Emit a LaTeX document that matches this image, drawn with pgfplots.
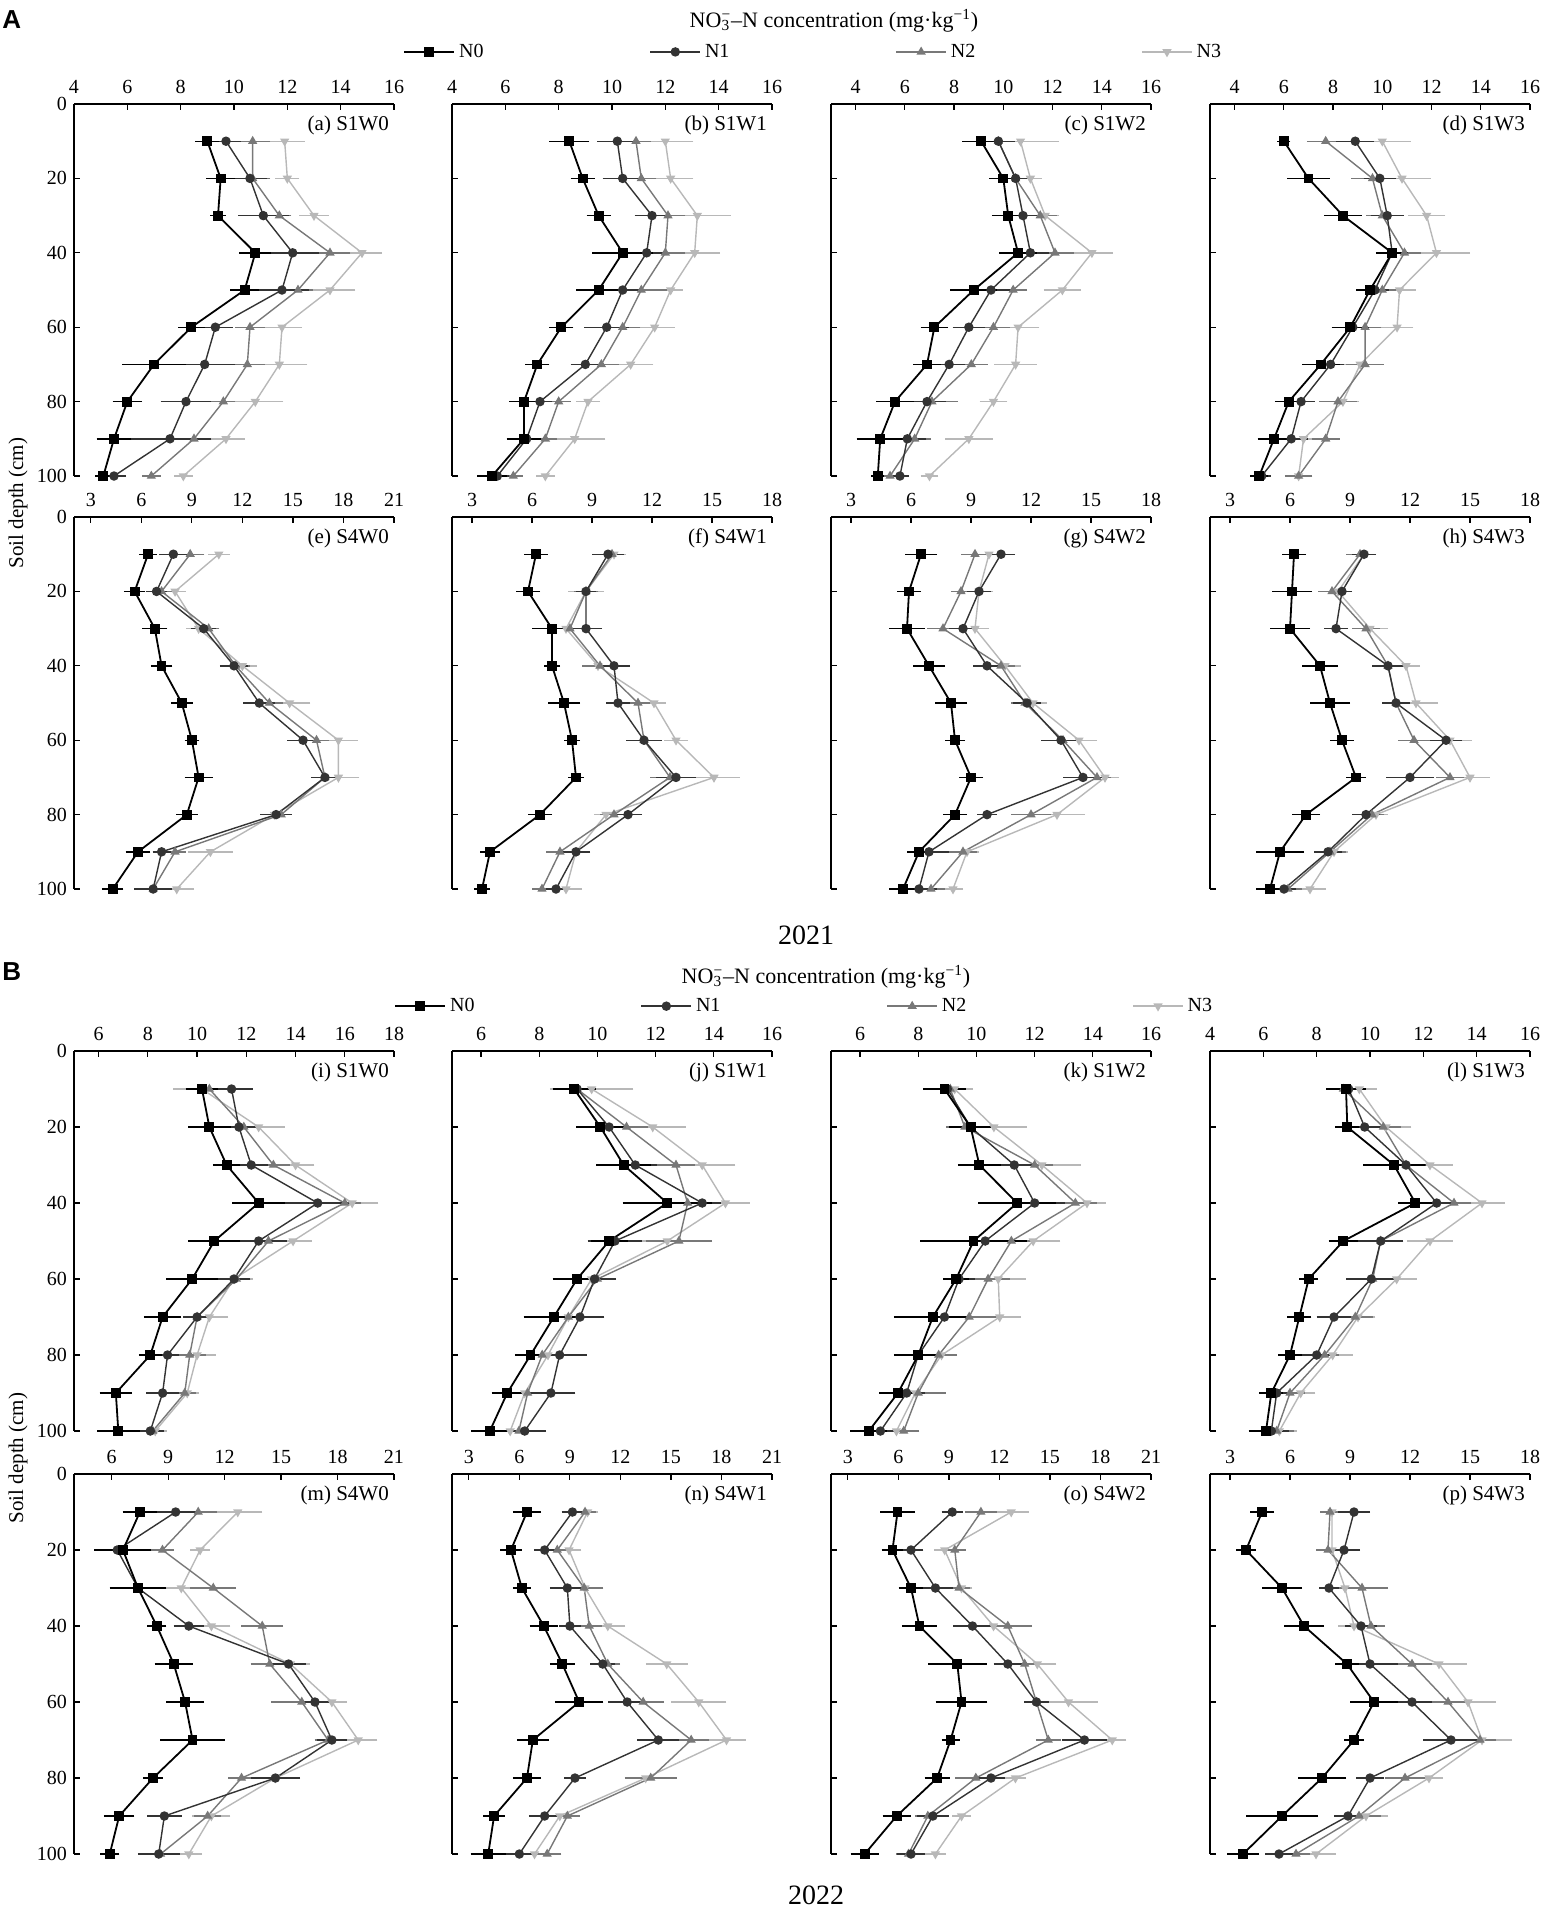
\documentclass[border=0pt]{standalone}
\usepackage{fontspec}
\setmainfont{Liberation Serif}
\newfontfamily\arialf{Liberation Sans}
\usepackage{pgfplots}
\usepackage{pgfplotstable}
\pgfplotsset{compat=1.18}

\definecolor{cN0}{HTML}{000000}
\definecolor{cN1}{HTML}{333333}
\definecolor{cN2}{HTML}{787878}
\definecolor{cN3}{HTML}{B8B8B8}

\pgfplotstableread{
d n0 e0 n1 e1 n2 e2 n3 e3
10 9.0 0.3 9.7 0.4 10.7 0.5 11.9 0.6
20 9.5 0.4 10.6 0.5 10.7 0.5 12.0 0.3
30 9.4 0.15 11.1 0.8 11.7 0.3 13.0 0.4
40 10.8 0.45 12.2 0.85 13.6 0.6 14.8 0.6
50 10.4 0.4 11.8 0.85 12.4 0.4 13.6 0.8
60 8.4 0.35 9.3 0.5 10.6 0.4 11.8 0.6
70 7.0 1.05 8.9 1.0 10.5 0.5 11.7 0.9
80 6.0 0.4 8.2 0.8 9.6 0.3 10.8 0.9
90 5.5 0.5 7.6 1.4 8.5 0.5 9.7 0.55
100 5.1 0.15 5.5 0.3 6.9 0.2 8.1 0.2
}\tA
\pgfplotstableread{
d n0 e0 n1 e1 n2 e2 n3 e3
10 8.4 0.6 10.2 0.6 10.9 0.4 12.0 0.9
20 8.9 0.3 10.4 0.6 11.1 0.4 12.2 0.7
30 9.5 0.3 11.5 0.5 12.1 0.5 13.2 1.1
40 10.4 1.0 11.3 0.6 12.0 0.6 13.1 0.8
50 9.5 0.7 10.4 0.6 11.1 0.8 12.2 0.3
60 8.1 0.3 9.8 0.7 10.4 0.5 11.6 0.6
70 7.2 0.3 9.0 0.4 9.6 0.5 10.7 0.7
80 6.7 0.4 7.3 0.3 8.0 0.3 9.1 0.3
90 6.7 0.5 6.8 0.4 7.5 0.3 8.6 1.0
100 5.5 0.4 5.7 0.3 6.3 0.2 7.5 0.2
}\tB
\pgfplotstableread{
d n0 e0 n1 e1 n2 e2 n3 e3
10 9.1 0.6 9.8 0.5 9.8 0.3 10.7 1.4
20 10.0 0.4 10.5 0.4 10.5 0.3 11.1 0.3
30 10.2 0.5 10.8 0.4 11.5 0.5 11.7 0.4
40 10.6 0.6 11.1 0.6 12.1 0.6 13.6 0.7
50 8.8 0.8 9.5 0.7 10.4 0.4 12.4 0.6
60 7.2 0.4 8.6 0.5 9.6 0.5 10.6 0.7
70 6.9 0.4 7.8 0.5 8.7 0.5 10.5 0.7
80 5.6 0.6 6.9 0.6 7.1 0.9 9.6 0.4
90 5.0 0.8 6.1 0.6 6.4 0.5 8.6 0.8
100 4.9 0.1 5.8 0.2 5.4 0.2 7.0 0.2
}\tC
\pgfplotstableread{
d n0 e0 n1 e1 n2 e2 n3 e3
10 6.0 0.1 8.9 0.6 7.7 0.6 10.0 1.0
20 7.0 0.7 9.9 0.5 9.6 0.7 10.8 1.0
30 8.4 0.6 10.2 0.5 10.0 0.5 11.8 0.6
40 10.4 0.5 10.4 0.4 10.9 0.5 12.2 1.2
50 9.5 0.4 9.7 0.4 10.0 0.4 10.7 0.5
60 8.7 0.6 8.8 0.5 9.3 0.5 10.6 0.5
70 7.5 0.6 7.9 0.4 9.3 0.6 9.1 0.6
80 6.2 0.4 6.7 0.4 8.2 0.6 8.4 0.5
90 5.6 0.5 6.3 0.5 7.7 0.4 6.8 0.4
100 5.0 0.2 5.1 0.2 6.6 0.4 6.6 0.2
}\tD
\pgfplotstableread{
d n0 e0 n1 e1 n2 e2 n3 e3
10 6.4 0.3 7.9 0.6 8.9 0.6 10.6 0.4
20 5.6 0.4 6.9 0.4 7.2 0.5 8.0 0.4
30 6.8 0.5 9.7 0.5 10.0 0.4 9.4 0.5
40 7.2 0.4 11.5 0.6 11.6 0.6 12.0 0.6
50 8.4 0.4 13.0 0.7 13.6 0.6 14.8 1.0
60 9.0 0.2 15.6 0.7 16.4 0.5 17.7 0.9
70 9.4 0.6 16.9 0.6 16.9 0.5 17.7 1.0
80 8.7 0.4 14.0 0.7 14.3 0.4 13.9 0.6
90 5.8 0.5 7.2 0.3 8.0 0.4 10.1 1.1
100 4.3 0.4 6.7 0.9 6.7 0.4 8.1 0.8
}\tE
\pgfplotstableread{
d n0 e0 n1 e1 n2 e2 n3 e3
10 6.2 0.4 9.8 0.6 10.0 0.4 10.1 0.4
20 5.8 0.4 8.7 0.3 8.7 0.4 8.7 0.7
30 7.0 0.8 8.7 0.6 7.9 0.5 7.7 0.5
40 7.0 0.2 10.1 0.6 9.4 0.7 9.3 0.6
50 7.6 0.6 10.3 0.4 11.3 0.4 12.1 0.4
60 8.0 0.2 11.6 0.7 11.6 0.6 13.2 0.4
70 8.2 0.2 13.2 0.8 12.9 0.8 15.1 1.1
80 6.4 0.4 10.8 0.5 10.1 0.5 9.7 0.4
90 3.9 0.3 8.2 0.5 7.4 0.5 8.2 0.5
100 3.5 0.2 7.2 0.3 6.5 0.3 7.7 0.6
}\tF
\pgfplotstableread{
d n0 e0 n1 e1 n2 e2 n3 e3
10 6.5 0.6 10.5 0.5 9.2 0.5 9.9 0.5
20 5.9 0.4 9.4 0.4 8.5 0.3 9.4 0.5
30 5.8 0.7 8.6 0.5 7.6 0.6 9.2 0.5
40 6.9 0.6 9.8 0.5 10.5 0.5 10.7 0.6
50 8.0 0.6 11.8 0.5 11.7 0.5 12.1 0.5
60 8.2 0.3 13.5 0.8 13.6 0.6 14.4 0.7
70 9.0 0.4 14.6 0.8 15.3 0.5 15.7 0.5
80 8.2 0.4 9.8 0.3 12.0 0.8 13.3 1.2
90 6.4 0.4 6.9 0.8 8.6 0.5 8.8 0.4
100 5.6 0.5 6.4 0.7 7.0 0.5 8.1 0.3
}\tG
\pgfplotstableread{
d n0 e0 n1 e1 n2 e2 n3 e3
10 6.2 0.4 9.7 0.4 9.5 0.5 9.7 0.4
20 6.1 0.8 8.6 0.3 8.1 0.5 8.4 0.4
30 6.0 0.8 8.3 0.4 9.8 0.5 10.0 0.7
40 7.5 0.7 10.9 0.6 10.9 0.5 11.8 0.5
50 8.0 0.8 11.3 0.5 11.3 0.5 12.3 0.9
60 8.6 0.4 13.8 0.6 12.2 0.6 14.0 0.9
70 9.3 0.3 12.0 1.0 14.0 0.5 15.0 0.8
80 6.8 0.5 9.8 0.5 10.1 0.4 10.3 0.4
90 5.5 1.0 7.9 0.5 8.0 0.6 8.2 0.5
100 5.0 0.5 5.7 0.4 5.9 0.5 7.0 0.6
}\tH
\pgfplotstableread{
d n0 e0 n1 e1 n2 e2 n3 e3
10 10.2 0.5 11.4 0.7 10.5 0.5 10.2 1.0
20 10.5 0.7 11.7 0.6 11.9 0.5 12.5 0.9
30 11.2 0.4 12.2 0.5 13.1 0.5 14.0 0.6
40 12.5 0.9 14.9 1.2 16.0 0.5 16.3 0.9
50 10.7 0.9 12.5 1.0 12.9 0.5 13.9 0.6
60 9.8 0.9 11.5 0.5 11.6 0.4 11.5 0.6
70 8.6 0.6 10.0 0.4 10.0 0.4 10.5 0.6
80 8.1 0.3 8.8 0.3 9.7 0.5 10.0 0.6
90 6.7 0.5 8.6 0.5 9.5 0.3 9.6 0.3
100 6.8 0.7 8.1 0.4 8.2 0.3 8.3 0.3
}\tI
\pgfplotstableread{
d n0 e0 n1 e1 n2 e2 n3 e3
10 9.2 0.6 9.3 0.5 9.3 0.4 9.8 1.3
20 10.1 0.7 10.4 0.5 11.0 0.6 11.9 1.0
30 10.9 0.8 11.3 0.6 12.7 0.5 13.6 1.0
40 12.4 1.4 13.6 0.5 13.1 0.7 14.4 0.7
50 10.4 0.5 10.6 0.8 12.8 1.0 12.4 0.8
60 9.3 0.7 9.9 0.6 10.0 0.5 9.8 0.5
70 8.5 0.9 9.4 0.7 9.0 0.5 9.0 0.6
80 7.7 0.4 8.7 0.8 8.1 0.4 8.3 0.5
90 6.9 0.4 8.4 0.7 7.6 0.4 7.5 0.4
100 6.3 0.5 7.5 0.6 7.3 0.5 7.0 0.5
}\tJ
\pgfplotstableread{
d n0 e0 n1 e1 n2 e2 n3 e3
10 8.9 0.6 9.0 0.4 9.1 0.3 9.25 0.5
20 9.8 0.6 9.8 0.5 9.6 0.5 10.6 1.0
30 10.1 0.6 11.3 0.6 12.0 0.5 12.25 1.2
40 11.4 1.2 12.0 0.9 13.4 0.6 13.8 0.5
50 9.9 1.7 10.3 1.0 11.2 0.6 11.95 0.8
60 9.3 0.3 9.4 0.4 10.4 0.6 10.75 0.8
70 8.5 1.2 8.9 0.7 9.75 0.8 10.8 0.6
80 8.0 0.7 8.0 0.4 8.7 0.5 8.8 0.4
90 7.3 0.5 7.6 0.5 8.0 0.8 7.9 0.4
100 6.3 0.5 6.7 0.4 7.5 0.4 7.25 0.5
}\tK
\pgfplotstableread{
d n0 e0 n1 e1 n2 e2 n3 e3
10 9.1 0.6 9.2 0.4 9.0 0.4 9.6 0.5
20 9.15 0.3 9.8 0.6 10.5 0.5 10.6 0.8
30 10.9 1.0 11.35 0.6 11.35 0.5 12.25 0.7
40 11.7 0.5 12.5 0.6 13.15 0.5 14.2 0.7
50 9.0 0.4 10.4 0.7 10.4 0.5 12.25 0.7
60 7.7 0.2 10.05 0.8 10.1 0.6 11.0 0.6
70 7.35 0.3 8.65 0.5 9.45 0.5 9.55 0.5
80 7.0 0.3 8.0 0.4 8.3 0.4 8.6 0.6
90 6.3 0.3 6.5 0.4 7.0 0.4 7.4 0.4
100 6.1 0.5 6.3 0.5 6.5 0.5 6.6 0.5
}\tL
\pgfplotstableread{
d n0 e0 n1 e1 n2 e2 n3 e3
10 7.5 0.7 9.4 1.0 10.6 0.8 12.7 1.1
20 6.6 1.3 6.3 0.9 8.7 0.4 10.7 0.3
30 7.4 1.3 7.4 0.5 11.4 1.0 9.7 0.7
40 8.4 0.3 10.1 0.6 14.0 0.9 11.3 0.8
50 9.3 0.8 15.4 0.7 14.4 0.8 15.5 0.8
60 9.9 0.8 16.8 0.6 16.1 1.4 17.7 0.6
70 10.3 1.5 17.7 0.6 17.5 0.5 19.1 0.8
80 8.2 0.3 14.7 1.1 12.9 0.5 14.7 1.0
90 6.4 0.6 8.8 0.7 11.1 0.5 11.3 0.8
100 5.9 0.3 8.5 0.9 8.6 0.4 10.1 0.5
}\tM
\pgfplotstableread{
d n0 e0 n1 e1 n2 e2 n3 e3
10 6.45 0.6 9.15 0.4 9.9 0.4 10.05 0.4
20 5.5 0.4 7.5 0.4 8.25 0.5 8.95 0.5
30 6.15 0.3 8.85 0.8 9.85 0.9 9.9 0.6
40 7.45 0.6 9.0 0.4 10.15 0.5 11.25 0.8
50 8.55 0.5 10.95 0.5 11.25 0.5 14.75 1.0
60 9.55 1.2 12.4 0.9 13.35 1.0 16.65 1.4
70 6.8 0.7 14.25 1.0 16.2 0.8 18.3 0.9
80 6.45 0.6 9.3 0.4 13.8 1.3 13.5 1.0
90 4.5 0.4 7.5 0.7 8.85 0.5 8.4 0.5
100 4.15 0.8 6.0 0.6 7.65 0.6 6.9 0.5
}\tN
\pgfplotstableread{
d n0 e0 n1 e1 n2 e2 n3 e3
10 5.95 0.8 9.2 0.4 10.9 0.7 12.7 0.8
20 5.65 0.4 6.75 0.5 9.35 0.4 8.75 0.4
30 6.75 0.5 8.2 0.8 9.6 0.4 9.75 0.4
40 7.25 0.8 10.4 0.9 12.5 1.2 11.65 0.6
50 9.5 1.5 12.5 0.6 13.5 0.5 14.25 0.9
60 9.75 1.3 14.2 0.5 14.2 0.5 16.1 1.5
70 9.1 0.3 17.05 1.1 14.9 0.5 18.7 0.6
80 8.3 0.5 11.5 0.6 10.6 1.0 12.95 0.4
90 5.9 0.6 8.05 0.7 7.75 0.5 9.75 0.3
100 4.0 0.6 6.75 0.6 6.6 0.5 8.2 0.4
}\tO
\pgfplotstableread{
d n0 e0 n1 e1 n2 e2 n3 e3
10 4.6 0.4 9.2 0.6 8.0 0.3 8.1 0.4
20 3.8 0.3 8.7 0.6 7.9 0.4 8.1 0.4
30 5.6 0.8 7.95 0.3 9.6 1.1 8.75 0.6
40 6.7 0.8 9.55 0.6 10.05 0.5 9.2 0.6
50 8.85 0.4 10.0 1.2 12.1 0.8 13.45 1.2
60 10.2 1.0 12.1 0.8 13.9 0.7 14.9 1.2
70 9.2 0.3 14.05 1.2 15.5 0.6 15.6 1.3
80 7.6 1.0 10.0 0.5 11.75 0.8 12.95 0.5
90 5.6 1.6 8.9 0.5 9.45 0.9 9.8 0.9
100 3.65 0.6 5.45 0.5 6.3 0.5 7.3 0.8
}\tP

\tikzset{plabel/.style={anchor=north east, inner sep=0pt, font=\fontsize{10.5}{12}\selectfont}}
\pgfplotsset{
  panel/.style={anchor=north west, scale only axis, width=160pt,
    y dir=reverse, ymin=0, ymax=100, ytick={0,20,...,100},
    axis x line*=top, axis y line*=left, tick align=inside,
    major tick length=3pt, tick style={black,line width=0.6pt},
    axis line style={black,line width=0.8pt},
    ticklabel style={font=\fontsize{10}{12}\selectfont},
    xticklabel={\pgfmathparse{int(round(\tick))}\pgfmathresult},
    yticklabel={\pgfmathparse{int(round(\tick))}\pgfmathresult},
    xticklabel style={yshift=1.5pt},
    clip=false},
  nolab/.style={yticklabels={}},
  sBase/.style={line width=0.7pt, mark size=2pt, mark options={solid}},
  lN0/.style={cN0, sBase, line width=0.9pt, mark=square*, mark options={fill=cN0}},
  lN1/.style={cN1, sBase, mark=*, mark options={fill=cN1}},
  lN2/.style={cN2, sBase, mark=triangle*, mark options={fill=cN2}},
  lN3/.style={cN3, sBase, mark=triangle*, mark options={fill=cN3,rotate=180}},
  eb/.style={error bars/.cd, x dir=both, x explicit,
    error bar style={line width=0.7pt, #1},
    error mark options={mark size=2pt, line width=0.7pt, #1}},
}

\newcommand{\plotall}[1]{%
  \addplot[lN3, eb=cN3] table[x=n3,y=d,x error=e3]{#1};
  \addplot[lN2, eb=cN2] table[x=n2,y=d,x error=e2]{#1};
  \addplot[lN1, eb=cN1] table[x=n1,y=d,x error=e1]{#1};
  \addplot[lN0, eb=cN0] table[x=n0,y=d,x error=e0]{#1};
}

\begin{document}
\begin{tikzpicture}
\path[use as bounding box] (0pt,0pt) rectangle (770.5pt,-954pt);

% ---------------- 2021 -----------------
\begin{axis}[panel, at={(37pt,-52pt)}, height=186pt, xmin=4, xmax=16, xtick={4,6,...,16}]
\plotall{\tA}
\node[plabel] at (axis description cs:0.985,0.97) {(a) S1W0};
\end{axis}
\begin{axis}[panel, nolab, at={(226pt,-52pt)}, height=186pt, xmin=4, xmax=16, xtick={4,6,...,16}]
\plotall{\tB}
\node[plabel] at (axis description cs:0.985,0.97) {(b) S1W1};
\end{axis}
\begin{axis}[panel, nolab, at={(415.5pt,-52pt)}, height=186pt, xmin=3, xmax=16, xtick={4,6,...,16}]
\plotall{\tC}
\node[plabel] at (axis description cs:0.985,0.97) {(c) S1W2};
\end{axis}
\begin{axis}[panel, nolab, at={(605pt,-52pt)}, height=186pt, xmin=3, xmax=16, xtick={4,6,...,16}]
\plotall{\tD}
\node[plabel] at (axis description cs:0.985,0.97) {(d) S1W3};
\end{axis}

\begin{axis}[panel, at={(37pt,-258.5pt)}, height=186pt, xmin=2, xmax=21, xtick={3,6,...,21}]
\plotall{\tE}
\node[plabel] at (axis description cs:0.985,0.97) {(e) S4W0};
\end{axis}
\begin{axis}[panel, nolab, at={(226pt,-258.5pt)}, height=186pt, xmin=2, xmax=18, xtick={3,6,...,18}]
\plotall{\tF}
\node[plabel] at (axis description cs:0.985,0.97) {(f) S4W1};
\end{axis}
\begin{axis}[panel, nolab, at={(415.5pt,-258.5pt)}, height=186pt, xmin=2, xmax=18, xtick={3,6,...,18}]
\plotall{\tG}
\node[plabel] at (axis description cs:0.985,0.97) {(g) S4W2};
\end{axis}
\begin{axis}[panel, nolab, at={(605pt,-258.5pt)}, height=186pt, xmin=2, xmax=18, xtick={3,6,...,18}]
\plotall{\tH}
\node[plabel] at (axis description cs:0.985,0.97) {(h) S4W3};
\end{axis}

% ---------------- 2022 -----------------
\begin{axis}[panel, at={(37pt,-525.5pt)}, height=190pt, xmin=5, xmax=18, xtick={6,8,...,18}]
\plotall{\tI}
\node[plabel] at (axis description cs:0.985,0.97) {(i) S1W0};
\end{axis}
\begin{axis}[panel, nolab, at={(226pt,-525.5pt)}, height=190pt, xmin=5, xmax=16, xtick={6,8,...,16}]
\plotall{\tJ}
\node[plabel] at (axis description cs:0.985,0.97) {(j) S1W1};
\end{axis}
\begin{axis}[panel, nolab, at={(415.5pt,-525.5pt)}, height=190pt, xmin=5, xmax=16, xtick={6,8,...,16}]
\plotall{\tK}
\node[plabel] at (axis description cs:0.985,0.97) {(k) S1W2};
\end{axis}
\begin{axis}[panel, nolab, at={(605pt,-525.5pt)}, height=190pt, xmin=4, xmax=16, xtick={4,6,...,16}]
\plotall{\tL}
\node[plabel] at (axis description cs:0.985,0.97) {(l) S1W3};
\end{axis}

\begin{axis}[panel, at={(37pt,-737pt)}, height=190pt, xmin=4, xmax=21, xtick={6,9,...,21}]
\plotall{\tM}
\node[plabel] at (axis description cs:0.985,0.97) {(m) S4W0};
\end{axis}
\begin{axis}[panel, nolab, at={(226pt,-737pt)}, height=190pt, xmin=2, xmax=21, xtick={3,6,...,21}]
\plotall{\tN}
\node[plabel] at (axis description cs:0.985,0.97) {(n) S4W1};
\end{axis}
\begin{axis}[panel, nolab, at={(415.5pt,-737pt)}, height=190pt, xmin=2, xmax=21, xtick={3,6,...,21}]
\plotall{\tO}
\node[plabel] at (axis description cs:0.985,0.97) {(o) S4W2};
\end{axis}
\begin{axis}[panel, nolab, at={(605pt,-737pt)}, height=190pt, xmin=2, xmax=18, xtick={3,6,...,18}]
\plotall{\tP}
\node[plabel] at (axis description cs:0.985,0.97) {(p) S4W3};
\end{axis}

% ---------------- legends -----------------
\pgfplotsset{legax/.style={anchor=north west, scale only axis, width=160pt, hide axis,
  xmin=0, xmax=1, ymin=0, ymax=1,
  legend columns=4,
  legend image code/.code={\draw[mark repeat=2,mark phase=2,##1] plot coordinates {(0pt,0pt) (12.5pt,0pt) (25pt,0pt)};},
  legend style={draw=none, fill=none, inner sep=0pt, anchor=west,
    font=\fontsize{10}{12}\selectfont,
    /tikz/every even column/.append style={column sep=81pt}}}}
\begin{axis}[legax, at={(37pt,-52pt)}, height=186pt,
  legend style={at={(axis description cs:1.028,1.14)}}]
\addlegendimage{lN0}\addlegendentry{N0}
\addlegendimage{lN1}\addlegendentry{N1}
\addlegendimage{lN2}\addlegendentry{N2}
\addlegendimage{lN3}\addlegendentry{N3}
\end{axis}
\begin{axis}[legax, at={(37pt,-525.5pt)}, height=190pt,
  legend style={at={(axis description cs:1.0,1.118)}}]
\addlegendimage{lN0}\addlegendentry{N0}
\addlegendimage{lN1}\addlegendentry{N1}
\addlegendimage{lN2}\addlegendentry{N2}
\addlegendimage{lN3}\addlegendentry{N3}
\end{axis}

% ---------------- texts -----------------
\node[anchor=north west, inner sep=0pt, font=\arialf\bfseries\fontsize{13}{14}\selectfont] at (1pt,-5pt) {A};
\node[anchor=north west, inner sep=0pt, font=\arialf\bfseries\fontsize{13}{14}\selectfont] at (1pt,-481pt) {B};
\node[font=\fontsize{11}{13}\selectfont] at (417pt,-10.5pt) {NO\rlap{\textsubscript{3}}\textsuperscript{−}–N concentration (mg·kg\textsuperscript{−1})};
\node[font=\fontsize{11}{13}\selectfont] at (413pt,-488.5pt) {NO\rlap{\textsubscript{3}}\textsuperscript{−}–N concentration (mg·kg\textsuperscript{−1})};
\node[rotate=90, font=\fontsize{10.5}{12}\selectfont] at (9pt,-251.5pt) {Soil depth (cm)};
\node[rotate=90, font=\fontsize{10.5}{12}\selectfont] at (9pt,-729pt) {Soil depth (cm)};
\node[font=\fontsize{14}{16}\selectfont] at (403pt,-467.5pt) {2021};
\node[font=\fontsize{14}{16}\selectfont] at (408pt,-947.5pt) {2022};
\end{tikzpicture}
\end{document}
